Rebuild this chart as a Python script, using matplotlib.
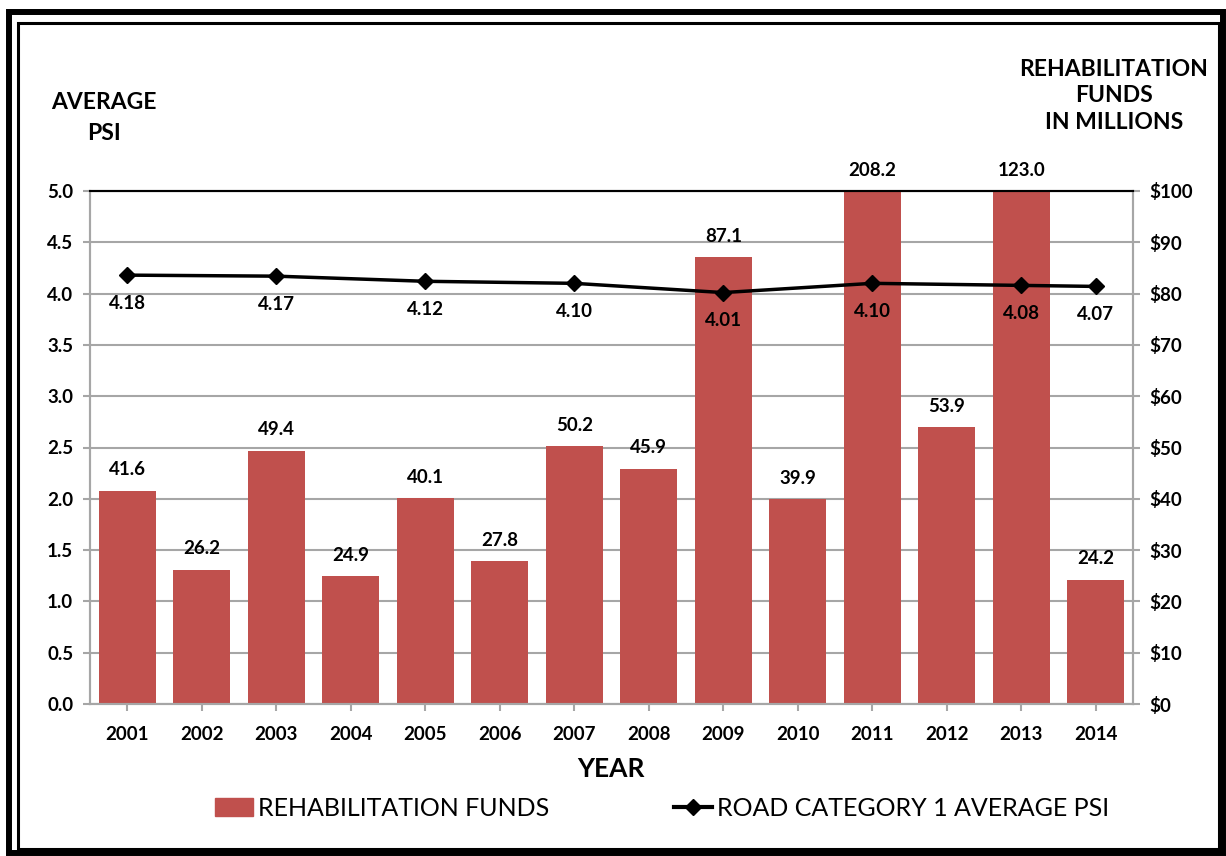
import matplotlib
matplotlib.use("Agg")
from matplotlib import pyplot as plt
from matplotlib.patches import Rectangle
from matplotlib.lines import Line2D
import numpy as np

# data
years = ["2001", "2002", "2003", "2004", "2005", "2006", "2007",
         "2008", "2009", "2010", "2011", "2012", "2013", "2014"]
funds = [41.6, 26.2, 49.4, 24.9, 40.1, 27.8, 50.2,
         45.9, 87.1, 39.9, 208.2, 53.9, 123.0, 24.2]
psi_years = ["2001", "2003", "2005", "2007", "2009", "2011", "2013", "2014"]
psi = [4.18, 4.17, 4.12, 4.10, 4.01, 4.10, 4.08, 4.07]

bar_color = "#C0504D"
grid_color = "#A6A6A6"
plt.rcParams["font.family"] = ["Lato", "DejaVu Sans"]
plt.rcParams["font.weight"] = "bold"

W, H = 1226, 856
fig = plt.figure(figsize=(W / 100, H / 100), dpi=100)

# plot area in pixels
left, right, top, bottom = 90, 1133, 191, 704
ax = fig.add_axes([left / W, 1 - bottom / H, (right - left) / W, (bottom - top) / H])

x = np.arange(len(years))
ax.bar(x, funds, width=0.76, color=bar_color, zorder=2)
ax.set_ylim(0, 100)
ax.set_xlim(-0.5, len(years) - 0.5)
ax.set_yticks(np.arange(0, 101, 10))
ax.set_yticklabels(["$%d" % v for v in range(0, 101, 10)])
ax.grid(axis="y", color=grid_color, linewidth=1.5, zorder=0)
ax.set_axisbelow(True)
ax.set_xticks(x)
ax.set_xticklabels(years)

# funds labels, the tall bars are clipped at $100 so put their label on top
for xi, v in zip(x, funds):
    ax.annotate("%.1f" % v, (xi, min(v, 100)), xytext=(0, 9), textcoords="offset points",
                ha="center", va="bottom", fontsize=13.5)

ax2 = ax.twinx()
# twinx moves the original ticks to the left, so swap sides afterwards
ax.yaxis.tick_right()
ax2.yaxis.tick_left()
ax2.set_ylim(0, 5)
ax2.set_yticks(np.arange(0, 5.01, 0.5))
ax2.set_yticklabels(["%.1f" % v for v in np.arange(0, 5.01, 0.5)])
px = [years.index(y) for y in psi_years]
ax2.plot(px, psi, color="black", linewidth=2.5, marker="D", markersize=8, zorder=3)
for xi, v in zip(px, psi):
    ax2.annotate("%.2f" % v, (xi, v), xytext=(0, -14), textcoords="offset points",
                 ha="center", va="top", fontsize=13.5)

for a in (ax, ax2):
    for s in a.spines.values():
        s.set_color(grid_color)
        s.set_linewidth(1.5)
    a.spines["top"].set_color("black")
    a.tick_params(colors=grid_color, labelcolor="black", labelsize=13.5, width=1.5, length=5)
ax.tick_params(axis="x", pad=11)
ax.tick_params(axis="y", pad=7)
ax2.tick_params(axis="y", pad=7)

# axis titles
fig.text(104 / W, 1 - 118 / H, "AVERAGE\nPSI", ha="center", va="center",
         fontsize=16.5, linespacing=1.55)
fig.text(1114 / W, 1 - 96 / H, "REHABILITATION\nFUNDS\nIN MILLIONS", ha="center", va="center",
         fontsize=16.5, linespacing=1.35)
fig.text(611 / W, 1 - 769 / H, "YEAR", ha="center", va="center", fontsize=19)

# legend
handles = [Rectangle((0, 0), 1, 1, color=bar_color),
           Line2D([], [], color="black", linewidth=3, marker="D", markersize=8)]
fig.legend(handles, ["REHABILITATION FUNDS", "ROAD CATEGORY 1 AVERAGE PSI"],
           loc="center", bbox_to_anchor=(662 / W, 1 - 808 / H), ncol=2, frameon=False,
           prop={"size": 18, "weight": "normal"}, handlelength=1.5, handletextpad=0.2,
           columnspacing=5)

# double frame around the figure
fig.patches.append(Rectangle((9 / W, 3 / H), 1214 / W, 841 / H, transform=fig.transFigure,
                             fill=False, edgecolor="black", linewidth=4.3))
fig.patches.append(Rectangle((17.5 / W, 7 / H), 1201 / W, 826.5 / H, transform=fig.transFigure,
                             fill=False, edgecolor="black", linewidth=2.2))

fig.savefig("out.png", dpi=100)
